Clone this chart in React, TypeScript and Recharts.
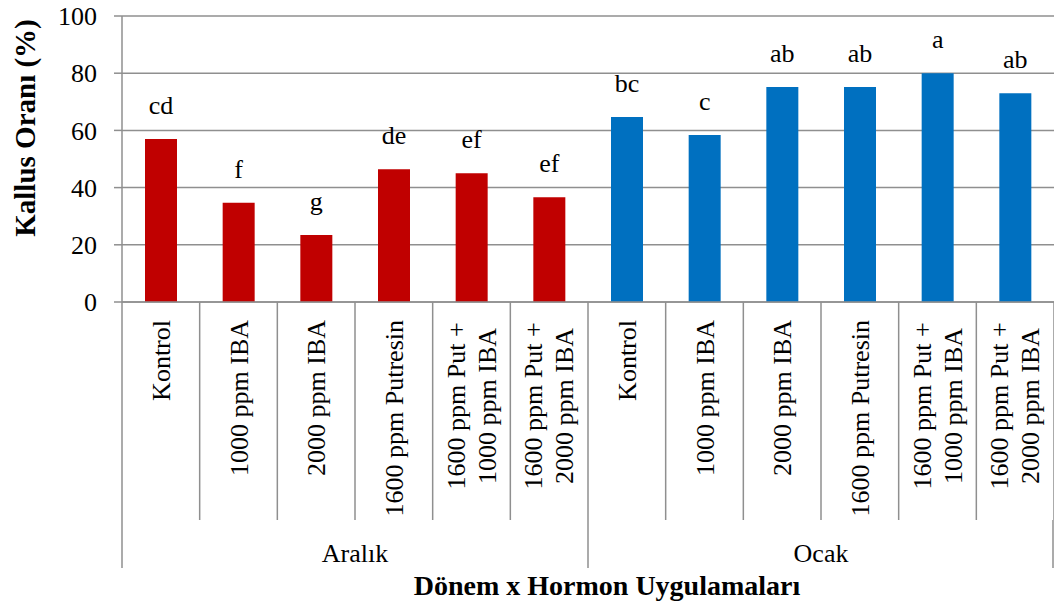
import React from "react";
import { BarChart, Bar, XAxis, YAxis, CartesianGrid, LabelList, Cell } from "recharts";

const groups = ["Aralık", "Aralık", "Aralık", "Aralık", "Aralık", "Aralık", "Ocak", "Ocak", "Ocak", "Ocak", "Ocak", "Ocak"];
const treatments = [
  ["Kontrol"],
  ["1000 ppm IBA"],
  ["2000 ppm IBA"],
  ["1600 ppm Putresin"],
  ["1600 ppm Put +", "1000 ppm IBA"],
  ["1600 ppm Put +", "2000 ppm IBA"],
  ["Kontrol"],
  ["1000 ppm IBA"],
  ["2000 ppm IBA"],
  ["1600 ppm Putresin"],
  ["1600 ppm Put +", "1000 ppm IBA"],
  ["1600 ppm Put +", "2000 ppm IBA"],
];
const callusValues = [57, 34.7, 23.4, 46.4, 45, 36.6, 64.7, 58.4, 75.2, 75.2, 80, 73];
const letters = ["cd", "f", "g", "de", "ef", "ef", "bc", "c", "ab", "ab", "a", "ab"];
const yTicks = [0, 20, 40, 60, 80, 100];
const groupColors: Record<string, string> = { "Aralık": "#C00000", "Ocak": "#0070C0" };

const data = callusValues.map((v, i) => ({
  key: String(i),
  group: groups[i],
  lines: treatments[i],
  value: v,
  letter: letters[i],
}));

const W = 1054;
const H = 605;
const PLOT_LEFT = 122;
const PLOT_TOP = 16;
const PLOT_BOTTOM = 302;
const AX1_H = 218;
const AX2_H = 85;
const PLOT_W = W - PLOT_LEFT;
const BAND = PLOT_W / data.length;
const GROUP_W = PLOT_W / 2;
const FONT = "'Liberation Serif', 'Times New Roman', serif";
const LINE = "#8f8f8f";
const FS = 26;

const CategoryTick = (props: any) => {
  const { x, index } = props;
  const d = data[index];
  if (!d) return null;
  const left = x - BAND / 2;
  const right = x + BAND / 2;
  const lines: string[] = d.lines;
  const els: React.ReactNode[] = [];
  els.push(<line key="l" x1={left} x2={left} y1={PLOT_BOTTOM} y2={PLOT_BOTTOM + AX1_H} stroke={LINE} strokeWidth={1.5} />);
  if (index === data.length - 1) {
    els.push(<line key="r" x1={right} x2={right} y1={PLOT_BOTTOM} y2={PLOT_BOTTOM + AX1_H} stroke={LINE} strokeWidth={1.5} />);
  }
  if (lines.length === 1) {
    els.push(
      <text key="t" transform={`translate(${x + 9},${PLOT_BOTTOM + 18}) rotate(-90)`} textAnchor="end" fontSize={FS} fontFamily={FONT} fill="#000">
        {lines[0]}
      </text>
    );
  } else {
    lines.forEach((ln, i) => {
      els.push(
        <text key={"t" + i} transform={`translate(${x - 7 + i * 31},${PLOT_BOTTOM + 104}) rotate(-90)`} textAnchor="middle" fontSize={FS} fontFamily={FONT} fill="#000">
          {ln}
        </text>
      );
    });
  }
  return <g>{els}</g>;
};

const GroupTick = (props: any) => {
  const { x, index, payload } = props;
  const top = PLOT_BOTTOM + AX1_H;
  const left = x - GROUP_W / 2;
  const right = x + GROUP_W / 2;
  return (
    <g>
      <line x1={left} x2={left} y1={top} y2={top + 48} stroke={LINE} strokeWidth={1.5} />
      {index === 1 && <line x1={right - 1} x2={right - 1} y1={top} y2={top + 48} stroke={LINE} strokeWidth={1.5} />}
      <text x={x} y={top + 42} textAnchor="middle" fontSize={FS} fontFamily={FONT} fill="#000">
        {payload.value}
      </text>
    </g>
  );
};

const LetterLabel = (props: any) => {
  const { x, y, width, value } = props;
  return (
    <text x={x + width / 2} y={y - 25} textAnchor="middle" fontSize={FS} fontFamily={FONT} fill="#000">
      {value}
    </text>
  );
};

export default function App() {
  return (
    <div style={{ position: "absolute", left: 0, top: 0, width: W, height: H, background: "#fff" }}>
      <BarChart width={W} height={H} data={data} margin={{ top: PLOT_TOP, right: 0, left: 0, bottom: 0 }} barSize={32}>
        <CartesianGrid horizontal vertical={false} stroke={LINE} strokeWidth={1.5} />
        <XAxis
          dataKey="key"
          height={AX1_H}
          interval={0}
          tickLine={false}
          axisLine={{ stroke: LINE, strokeWidth: 1.5 }}
          tick={<CategoryTick />}
        />
        <XAxis
          xAxisId="g"
          dataKey="group"
          allowDuplicatedCategory={false}
          height={AX2_H}
          interval={0}
          tickLine={false}
          axisLine={false}
          tick={<GroupTick />}
          label={{
            content: () => (
              <text x={607} y={595} textAnchor="middle" fontSize={28} fontWeight="bold" fontFamily={FONT} fill="#000">
                Dönem x Hormon Uygulamaları
              </text>
            ),
          }}
        />
        <YAxis
          width={PLOT_LEFT}
          domain={[0, 100]}
          ticks={yTicks}
          interval={0}
          tickSize={8}
          tickMargin={17}
          tickLine={{ stroke: LINE, strokeWidth: 1.5 }}
          axisLine={{ stroke: LINE, strokeWidth: 1.5 }}
          tick={{ fill: "#000", fontSize: FS, fontFamily: FONT }}
          label={{
            content: () => (
              <text transform={`translate(35,128) rotate(-90)`} textAnchor="middle" fontSize={29} fontWeight="bold" fontFamily={FONT} fill="#000">
                Kallus Oranı (%)
              </text>
            ),
          }}
        />
        <Bar dataKey="value" isAnimationActive={false}>
          {data.map((d, i) => (
            <Cell key={i} fill={groupColors[d.group]} />
          ))}
          <LabelList dataKey="letter" content={<LetterLabel />} />
        </Bar>
      </BarChart>
    </div>
  );
}
